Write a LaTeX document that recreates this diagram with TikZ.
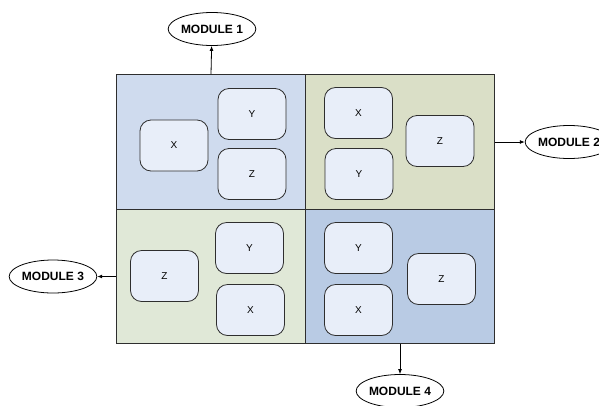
\documentclass[tikz,border=0pt]{standalone}
\usepackage{fontspec}
\setmainfont{Liberation Sans}
\usetikzlibrary{shapes.geometric,arrows.meta}
\definecolor{edge}{HTML}{2E2E2E}
\definecolor{qtl}{HTML}{CFDBEE}
\definecolor{qtr}{HTML}{DADFC7}
\definecolor{qbl}{HTML}{E0E8D7}
\definecolor{qbr}{HTML}{B9CBE4}
\definecolor{cell}{HTML}{E8EEF9}
\tikzset{
  quad/.style={draw=edge, line width=1.1pt, minimum width=189pt, minimum height=134.5pt, inner sep=0pt, anchor=center},
  cellbox/.style={draw=edge, line width=0.8pt, fill=cell, rounded corners=11pt,
    minimum width=68pt, minimum height=51pt, inner sep=0pt, font=\fontsize{10}{11}\selectfont},
  module/.style={ellipse, draw=black, line width=0.8pt, fill=white, minimum width=80pt, minimum height=33pt,
    inner sep=0pt, font=\bfseries\fontsize{12}{13}\selectfont},
  link/.style={draw=black, line width=0.8pt, -{Latex[length=5pt,width=4pt]}}
}
\begin{document}
\begin{tikzpicture}[x=1pt,y=-1pt]
  \useasboundingbox (0,0) rectangle (599,405);
  \begin{scope}
  \clip (0,0) rectangle (599,405);
  % four quadrants of the frame
  \node[quad, fill=qtl] (tl) at (211,142) {};
  \node[quad, fill=qtr] (tr) at (400,142) {};
  \node[quad, fill=qbl] (bl) at (211,276.5) {};
  \node[quad, fill=qbr] (br) at (400,276.5) {};

  % cells in the top-left quadrant
  \node[cellbox] (tlx) at (174,145.5) {X};
  \node[cellbox] (tly) at (252,114) {Y};
  \node[cellbox] (tlz) at (252,174) {Z};

  % cells in the top-right quadrant
  \node[cellbox] (trx) at (358.5,113) {X};
  \node[cellbox] (try) at (359,174) {Y};
  \node[cellbox] (trz) at (440,141) {Z};

  % cells in the bottom-left quadrant
  \node[cellbox] (blz) at (164.5,276) {Z};
  \node[cellbox] (bly) at (249.5,248) {Y};
  \node[cellbox] (blx) at (250.5,310) {X};

  % cells in the bottom-right quadrant
  \node[cellbox] (bry) at (358.5,248) {Y};
  \node[cellbox] (brx) at (358.5,310) {X};
  \node[cellbox] (brz) at (441.5,279) {Z};

  % modules
  \node[module] (m1) at (212,29) {MODULE 1};
  \node[module] (m2) at (569,142) {MODULE 2};
  \node[module] (m3) at (53,276.5) {MODULE 3};
  \node[module] (m4) at (400,391) {MODULE 4};

  \draw[link] (tl.north) -- (m1);
  \draw[link] (tr.east) -- (m2);
  \draw[link] (bl.west) -- (m3);
  \draw[link] (br.south) -- (m4);
  \end{scope}
\end{tikzpicture}
\end{document}
